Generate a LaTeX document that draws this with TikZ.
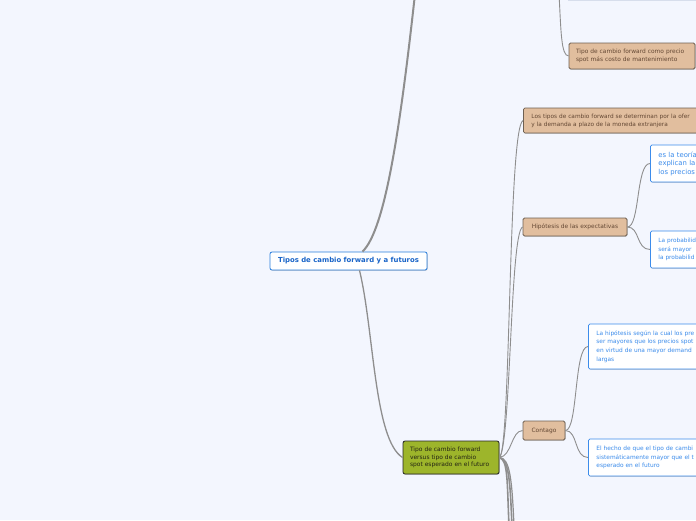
\documentclass[tikz,border=0pt]{standalone}
\usepackage{fontspec}
\setmainfont{DejaVu Sans}
\usetikzlibrary{shadows}
\definecolor{bgc}{RGB}{243,246,254}
\definecolor{conn}{RGB}{142,142,142}
\definecolor{rootblue}{RGB}{40,125,220}
\definecolor{rtext}{RGB}{25,100,200}
\definecolor{bblue}{RGB}{60,140,235}
\definecolor{tanfill}{RGB}{225,190,158}
\definecolor{tanborder}{RGB}{110,96,82}
\definecolor{tantext}{RGB}{100,72,52}
\definecolor{greenfill}{RGB}{157,181,43}
\definecolor{greentext}{RGB}{35,35,20}
\definecolor{topborder}{RGB}{215,222,236}
\tikzset{
  shad/.style={drop shadow={shadow xshift=0.6pt,shadow yshift=-0.6pt,opacity=0.25,fill=black}},
  rootbox/.style={draw=rootblue,fill=white,rounded corners=2pt,line width=0.8pt,text=rtext,
    font=\fontsize{6.9}{8}\selectfont\bfseries,inner sep=0pt,shad},
  tanbox/.style={draw=tanborder,fill=tanfill,rounded corners=1.5pt,line width=0.8pt,text=tantext,
    font=\fontsize{5.9}{8}\selectfont,inner sep=0pt,shad},
  greenbox/.style={draw=black!85,fill=greenfill,rounded corners=2pt,line width=0.8pt,text=greentext,
    font=\fontsize{5.95}{7.6}\selectfont,inner sep=0pt,shad},
  bluebox/.style={draw=bblue,fill=white,rounded corners=1.5pt,line width=0.8pt,text=bblue,
    font=\fontsize{5.85}{8.6}\selectfont,inner sep=0pt,shad},
  conline/.style={draw=conn,line width=0.9pt},
  thickline/.style={draw=conn,line width=2pt},
}
\begin{document}
\begin{tikzpicture}[x=1pt,y=-1pt]
\useasboundingbox (0,0) rectangle (696,520);
\fill[bgc] (0,0) rectangle (696,520);
\clip (0,0) rectangle (696,520);

% nodes
\node[fill=white,draw=topborder,line width=0.6pt,minimum width=160pt,minimum height=30pt,anchor=south west,inner sep=0pt] (topnode) at (568,0.6) {};
\node[rootbox,minimum width=157pt,minimum height=18pt] (root) at (348.5,261) {Tipos de cambio forward y a futuros};
\node[greenbox,minimum width=96pt,minimum height=33pt,text width=82pt,align=left] (green) at (451,457.5)
  {Tipo de cambio forward\\versus tipo de cambio\\spot esperado en el futuro};
\node[tanbox,minimum width=126pt,minimum height=26pt,text width=112pt,align=left] (precio) at (632,56)
  {Tipo de cambio forward como precio\\spot más costo de mantenimiento};
\node[tanbox,font=\fontsize{5.8}{8}\selectfont,minimum width=240pt,minimum height=25pt,text width=224pt,align=left,anchor=west] (lostipos) at (523,120.5)
  {Los tipos de cambio forward se determinan por la ofer\\y la demanda a plazo de la moneda extranjera};
\node[tanbox,minimum width=104pt,minimum height=18pt] (hipo) at (575,227) {Hipótesis de las expectativas};
\node[tanbox,minimum width=42pt,minimum height=19pt] (contago) at (544,430.5) {Contago};
\node[bluebox,font=\fontsize{6.85}{8.5}\selectfont,minimum width=120pt,minimum height=37pt,text width=104pt,align=left,anchor=west] (teoria) at (650,163.5)
  {es la teoría\\explican la\\los precios};
\node[bluebox,font=\fontsize{5.8}{8.6}\selectfont,minimum width=120pt,minimum height=37pt,text width=104pt,align=left,anchor=west] (proba) at (650,249.5)
  {La probabilid\\será mayor\\la probabilid};
\node[bluebox,minimum width=200pt,minimum height=45pt,text width=184pt,align=left,anchor=west] (hipotesis) at (588,346.5)
  {La hipótesis según la cual los pre\\ser mayores que los precios spot\\en virtud de una mayor demand\\largas};
\node[bluebox,minimum width=200pt,minimum height=37pt,text width=184pt,align=left,anchor=west] (hecho) at (588,457.5)
  {El hecho de que el tipo de cambi\\sistemáticamente mayor que el t\\esperado en el futuro};

% free ends
\coordinate (topend) at (415,-6);
\coordinate (precend) at (559,-6);
\coordinate (down1) at (509,526);
\coordinate (down2) at (512,526);
\coordinate (down3) at (514,526);

% connectors
\draw[thickline] ([xshift=14pt]root.north) .. controls (385,230) and (400,130) .. (topend);
\draw[draw=conn,line width=1.3pt] ([xshift=11pt]root.south) .. controls (374,330) and (374,440) .. (green.west);
\draw[conline] (precend) .. controls (561,30) and (561,56) .. (precio.west);
\draw[conline] (green.east) .. controls (511,450) and (508,128) .. (lostipos.west);
\draw[conline] (green.east) .. controls (511,445) and (510,232) .. (hipo.west);
\draw[conline] (green.east) .. controls (512,456) and (511,431) .. (contago.west);
\draw[draw=conn,line width=1.6pt] (green.east) .. controls (508,460) and (507,480) .. (down1);
\draw[draw=conn,line width=1.6pt] (green.east) .. controls (509,460) and (510,480) .. (down2);
\draw[draw=conn,line width=1.2pt] (green.east) .. controls (510,458) and (512,480) .. (down3);
\draw[conline] (hipo.east) .. controls (640,227) and (636,163.5) .. (teoria.west);
\draw[conline] (hipo.east) .. controls (640,227) and (636,249.5) .. (proba.west);
\draw[conline] (contago.east) .. controls (578,430.5) and (574,346.5) .. (hipotesis.west);
\draw[conline] (contago.east) .. controls (578,430.5) and (574,457.5) .. (hecho.west);
\end{tikzpicture}
\end{document}
